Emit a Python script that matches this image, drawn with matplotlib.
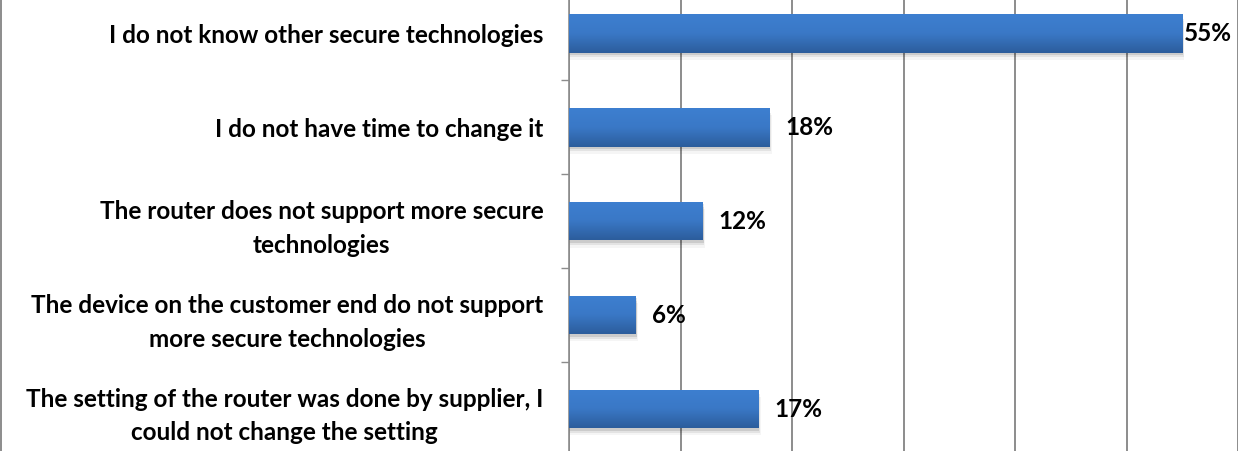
import numpy as np
import matplotlib.pyplot as plt
from matplotlib.patches import Rectangle
from matplotlib.colors import LinearSegmentedColormap
from matplotlib.lines import Line2D

# survey answers, top to bottom
reasons = [
    "I do not know other secure technologies",
    "I do not have time to change it",
    "The router does not support more secure\ntechnologies",
    "The device on the customer end do not support\nmore secure technologies",
    "The setting of the router was done by supplier, I\ncould not change the setting",
]
shares = [55, 18, 12, 6, 17]
x_max = 60

plt.rcParams['font.family'] = ['Lato', 'DejaVu Sans']

fig = plt.figure(figsize=(12.41, 4.51), dpi=100)
ax = fig.add_axes([0.4585, -0.011, 0.5391, 1.041])

y = np.arange(len(reasons))
bar_h = 0.41
# light at the top edge, darker towards the bottom
grad = LinearSegmentedColormap.from_list("bar", ["#3d7fd0", "#3a78c6", "#2c5d9c"])

bars = ax.barh(y, shares, height=bar_h, color="none", zorder=3)
for b in bars:
    x0, y0, w, h = b.get_x(), b.get_y(), b.get_width(), b.get_height()
    # soft shadow under each bar
    for k, a in [(0.025, 0.10), (0.05, 0.07), (0.075, 0.04)]:
        ax.add_patch(Rectangle((x0, y0 + k), w + k * 2.5, h, color="black",
                               alpha=a, lw=0, zorder=2))
    img = ax.imshow(np.linspace(0, 1, 100).reshape(-1, 1), cmap=grad, aspect="auto",
                    extent=(x0, x0 + w, y0 + h, y0), origin="upper", zorder=3,
                    interpolation="bilinear")
    img.set_clip_path(Rectangle((x0, y0), w, h, transform=ax.transData))

for yi, v in zip(y, shares):
    pad = 16 if v + 6.5 < x_max else 2
    ax.annotate(f"{v}%", (v, yi), xytext=(pad * 0.72, 0), textcoords="offset points",
                ha="left", va="center", fontsize=17.5, fontweight="bold", color="black")

ax.set_xlim(0, x_max)
ax.set_ylim(len(reasons) - 0.5, -0.5)
ax.set_xticks(np.arange(0, x_max + 1, 10))
ax.xaxis.grid(True, color="#8c8c8c", lw=1.4, zorder=0)
ax.set_axisbelow(True)
ax.tick_params(axis="x", length=0, labelbottom=False)

ax.set_yticks(y)
ax.set_yticklabels(reasons, fontsize=17.5, fontweight="bold", multialignment="center",
                   linespacing=1.55)
ax.set_yticks(np.arange(-0.5, len(reasons)), minor=True)
ax.tick_params(axis="y", which="major", length=0, pad=18.5)
ax.tick_params(axis="y", which="minor", length=6, width=1, color="#8c8c8c")

for s in ["top", "bottom", "right"]:
    ax.spines[s].set_visible(False)
ax.spines["left"].set_color("#8c8c8c")
ax.spines["left"].set_linewidth(1.2)

fig.add_artist(Line2D([0.0006, 0.0006], [0, 1], color="#8c8c8c", lw=1.4,
                      transform=fig.transFigure))

fig.savefig("out.png", dpi=100)
